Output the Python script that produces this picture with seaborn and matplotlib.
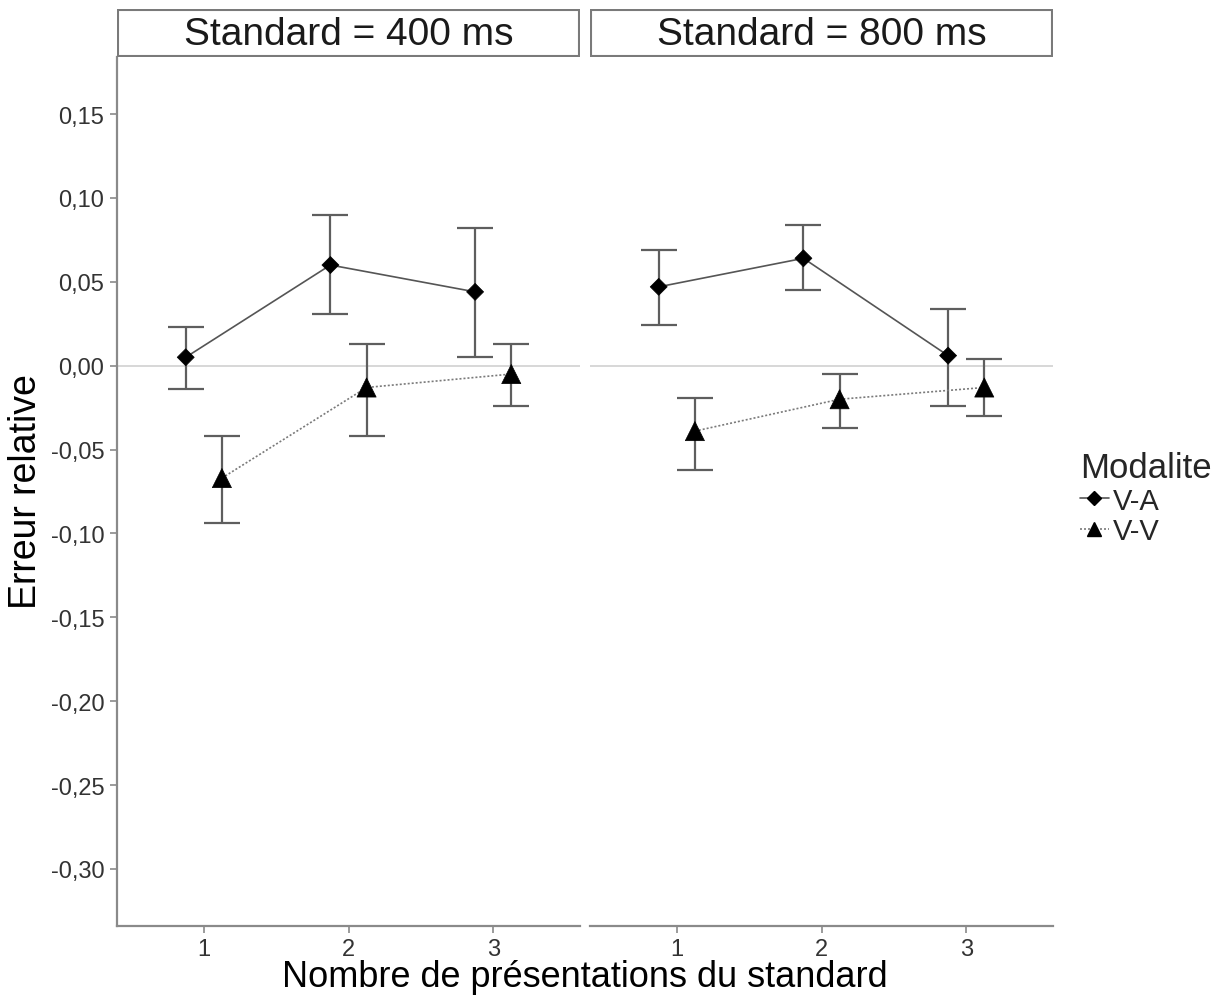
import matplotlib
matplotlib.use("Agg")
import matplotlib.pyplot as plt
from matplotlib.patches import Rectangle
from matplotlib.lines import Line2D
import seaborn as sns
import pandas as pd
import numpy as np

# ---- data ----
standards = ["Standard = 400 ms", "Standard = 800 ms"]
presentations = [1, 2, 3]
modalites = ["V-A", "V-V"]

va_400_mean = [0.005, 0.060, 0.044]
va_400_low = [-0.014, 0.031, 0.005]
va_400_high = [0.023, 0.090, 0.082]
vv_400_mean = [-0.067, -0.013, -0.005]
vv_400_low = [-0.094, -0.042, -0.024]
vv_400_high = [-0.042, 0.013, 0.013]

va_800_mean = [0.047, 0.064, 0.006]
va_800_low = [0.024, 0.045, -0.024]
va_800_high = [0.069, 0.084, 0.034]
vv_800_mean = [-0.039, -0.020, -0.013]
vv_800_low = [-0.062, -0.037, -0.030]
vv_800_high = [-0.019, -0.005, 0.004]

y_ticks = [0.15, 0.10, 0.05, 0.00, -0.05, -0.10, -0.15, -0.20, -0.25, -0.30]
y_tick_labels = ["0,15", "0,10", "0,05", "0,00", "-0,05", "-0,10", "-0,15", "-0,20", "-0,25", "-0,30"]

rows = []
for std, series in zip(standards, [
        {"V-A": (va_400_mean, va_400_low, va_400_high), "V-V": (vv_400_mean, vv_400_low, vv_400_high)},
        {"V-A": (va_800_mean, va_800_low, va_800_high), "V-V": (vv_800_mean, vv_800_low, vv_800_high)}]):
    for mod in modalites:
        m, lo, hi = series[mod]
        for p, a, b, c in zip(presentations, m, lo, hi):
            rows.append(dict(Standard=std, n=p, Modalite=mod, mean=a, low=b, high=c))
df = pd.DataFrame(rows)
dodge = {"V-A": -0.125, "V-V": 0.125}
df["pos"] = df["n"] + df["Modalite"].map(dodge)

# ---- style ----
sns.set_style("white")
plt.rcParams["font.family"] = ["Liberation Sans", "DejaVu Sans"]

W, H = 1226, 1003
fig = plt.figure(figsize=(W / 100, H / 100), dpi=100)

def fx(px):
    return px / W

def fy(py):
    return 1 - py / H

panel_left = [117, 590]
panel_w = 463
top, bottom = 58, 927
axis_gray = "#8a8a8a"
err_gray = "#5e5e5e"

markers = {"V-A": "D", "V-V": "^"}
msizes = {"V-A": 75, "V-V": 190}
lstyles = {"V-A": "", "V-V": (1.2, 1.2)}
lcolors = {"V-A": "#555555", "V-V": "#7a7a7a"}

axes = []
for i, std in enumerate(standards):
    ax = fig.add_axes([fx(panel_left[i]), fy(bottom), panel_w / W, (bottom - top) / H])
    axes.append(ax)
    sub = df[df["Standard"] == std]
    ax.axhline(0, color="#d4d4d4", lw=1.3, zorder=0)
    for mod in modalites:
        s = sub[sub["Modalite"] == mod]
        ax.errorbar(s["pos"], s["mean"],
                    yerr=[s["mean"] - s["low"], s["high"] - s["mean"]],
                    fmt="none", ecolor=err_gray, elinewidth=1.6, capsize=13,
                    capthick=1.6, zorder=2)
    sns.lineplot(data=sub, x="pos", y="mean", style="Modalite", hue="Modalite",
                 palette=lcolors, dashes=lstyles, lw=1.2, ax=ax, legend=False,
                 zorder=3)
    sns.scatterplot(data=sub, x="pos", y="mean", style="Modalite", markers=markers,
                    size="Modalite", sizes=msizes, color="black", edgecolor="black",
                    linewidth=0.5, ax=ax, legend=False, zorder=4)
    ax.set_xlim(0.4, 3.6)
    ax.set_ylim(-0.334, 0.184)
    ax.set_xticks(presentations)
    ax.set_xticklabels([str(p) for p in presentations], fontsize=17, color="#333333")
    ax.set_xlabel("")
    ax.set_ylabel("")
    for side in ["top", "right"]:
        ax.spines[side].set_visible(False)
    ax.spines["bottom"].set_color(axis_gray)
    ax.spines["bottom"].set_linewidth(1.6)
    if i == 0:
        ax.spines["left"].set_color(axis_gray)
        ax.spines["left"].set_linewidth(1.6)
        ax.set_yticks(y_ticks)
        ax.set_yticklabels(y_tick_labels, fontsize=17, color="#333333")
    else:
        ax.spines["left"].set_visible(False)
        ax.set_yticks(y_ticks)
        ax.tick_params(axis="y", left=False, labelleft=False)
    ax.tick_params(axis="both", direction="out", length=5, width=1.2, color=axis_gray,
                   pad=4, bottom=True, left=(i == 0))
    ax.set_facecolor("white")

    # strip
    sax = fig.add_axes([fx(panel_left[i]), fy(58), panel_w / W, 48 / H])
    sax.set_xlim(0, 1)
    sax.set_ylim(0, 1)
    sax.axis("off")
    sax.add_patch(Rectangle((0.002, 0.02), 0.996, 0.96, facecolor="white",
                            edgecolor="#7a7a7a", lw=1.5, transform=sax.transAxes))
    sax.text(0.5, 0.47, std, ha="center", va="center", fontsize=28, color="#1a1a1a")

fig.text(fx(585), fy(978), "Nombre de présentations du standard", ha="center",
         va="center", fontsize=26, color="black")
fig.text(fx(26), fy(492), "Erreur relative", ha="center", va="center",
         rotation=90, fontsize=27, color="black")

handles = [Line2D([0], [0], color=lcolors["V-A"], lw=1.2, marker="D", markersize=7,
                  markerfacecolor="black", markeredgecolor="black"),
           Line2D([0], [0], color=lcolors["V-V"], lw=1.2, linestyle=(0, (1.2, 1.2)),
                  marker="^", markersize=10, markerfacecolor="black",
                  markeredgecolor="black")]
leg = fig.legend(handles, modalites, title="Modalite", loc="upper left",
                 bbox_to_anchor=(fx(1068), fy(440)), frameon=False, fontsize=21,
                 title_fontsize=25, handlelength=1.0, handletextpad=0.15,
                 labelspacing=0.1, borderaxespad=0, alignment="left")

fig.savefig("out.png", dpi=100, facecolor="white")
